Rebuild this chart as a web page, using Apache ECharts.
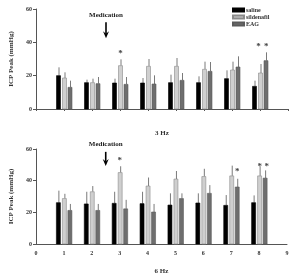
<!DOCTYPE html>
<html><head><meta charset="utf-8">
<script src="https://cdn.jsdelivr.net/npm/echarts@6/dist/echarts.min.js"></script>
<style>html,body{margin:0;padding:0;background:#fff}#c{width:293px;height:276px}</style>
</head><body><div id="c"></div>
<script>
// Groups (x positions 1..8)
const groups = [1,2,3,4,5,6,7,8];
const xTicks = [0,1,2,3,4,5,6,7,8,9];
const yTicks = [0,20,40,60];
// 3 Hz: bar heights and upper error-bar ends
const saline3 = [20,15.8,15.6,15.6,15.8,15.8,18.2,13.6];
const saline3Up = [25,17.6,18.2,18.6,20.6,19.6,23.2,17];
const silden3 = [18.6,15.8,26,25.6,25.6,23.8,23.4,21.6];
const silden3Up = [22,18.2,29.8,30,30.6,28.4,28.4,27];
const eag3 = [13,15.2,14.8,15,17.2,22.6,25.2,29];
const eag3Up = [17,19.2,19.2,20.2,21.6,28.2,31.6,34];
// 6 Hz
const saline6 = [26.1,25.3,25.7,25.5,24.6,25.9,24.4,26.1];
const saline6Up = [33.7,33,33,33,32,32,30.9,30.7];
const silden6 = [28.7,33,45.1,36.6,41,42.6,43,43];
const silden6Up = [31.7,36.6,49.1,42,46.1,47.5,49.5,49.1];
const eag6 = [21.2,21.2,22.2,20.2,28.7,32,36,41.6];
const eag6Up = [25.3,25.3,27.9,25.3,32,37.2,41.2,46.5];
// significance stars [x, y]
const stars3 = [[3.02,33],[7.95,37.6],[8.22,37.6]];
const stars6 = [[3.0,52.5],[7.22,45.5],[8.02,49],[8.27,49]];
// medication annotation [x, textY, arrowTop, arrowBottom]
const med3 = [2.5,56.4,52,42.5];
const med6 = [2.5,63,58.2,49.3];

const FONT = '"Liberation Serif", "DejaVu Serif", serif';
const names = ['saline','sildenafil','EAG'];
const fills = ['#000000','#cfcfcf','#6e6e6e'];
const strokes = ['#000000','#8a8a8a','#5a5a5a'];
const offsets = [-5.5,0.5,6];

function barRender(k){
  return function(params, api){
    const x = api.value(0), y = api.value(1), e = api.value(2);
    const base = api.coord([x,0]);
    const top = api.coord([x,y]);
    const et = api.coord([x,e]);
    const cx = base[0] + offsets[k];
    return {type:'group', children:[
      {type:'line', shape:{x1:cx+0.5,y1:top[1],x2:cx+0.5,y2:et[1]}, style:{stroke:'#7a7a7a',lineWidth:1}},
      {type:'rect', shape:{x:cx-2,y:top[1],width:4,height:base[1]-top[1]}, style:{fill:fills[k],stroke:strokes[k],lineWidth:0.6}}
    ]};
  };
}
function mk(vals, ups){ return groups.map((g,i)=>[g, vals[i], ups[i]]); }

function starSeries(idx, data){
  return {type:'custom', xAxisIndex:idx, yAxisIndex:idx, silent:true, clip:false,
    data: data,
    renderItem:function(p, api){
      const c = api.coord([api.value(0), api.value(1)]);
      return {type:'text', x:c[0], y:c[1], style:{text:'*', font:'bold 9px '+FONT, fill:'#444', align:'center', verticalAlign:'middle'}};
    }};
}
function medSeries(idx, m){
  return {type:'custom', xAxisIndex:idx, yAxisIndex:idx, silent:true, clip:false,
    data:[m],
    renderItem:function(p, api){
      const t = api.coord([api.value(0), api.value(1)]);
      const a1 = api.coord([api.value(0), api.value(2)]);
      const a2 = api.coord([api.value(0), api.value(3)]);
      return {type:'group', children:[
        {type:'text', x:t[0], y:t[1], style:{text:'Medication', font:'bold 7px '+FONT, fill:'#222', align:'center', verticalAlign:'middle'}},
        {type:'line', shape:{x1:a1[0],y1:a1[1],x2:a2[0],y2:a2[1]-4}, style:{stroke:'#000',lineWidth:1.6}},
        {type:'polygon', shape:{points:[[a2[0]-3,a2[1]-7],[a2[0],a2[1]-4.5],[a2[0]+3,a2[1]-7],[a2[0],a2[1]]]}, style:{fill:'#000'}}
      ]};
    }};
}

const sets = [[saline3,saline3Up,silden3,silden3Up,eag3,eag3Up],[saline6,saline6Up,silden6,silden6Up,eag6,eag6Up]];
const series = [];
sets.forEach((s, idx)=>{
  for(let k=0;k<3;k++){
    series.push({type:'custom', name:names[k], xAxisIndex:idx, yAxisIndex:idx, clip:false,
      itemStyle:{color:fills[k], borderColor:strokes[k], borderWidth:0.6},
      data: mk(s[2*k], s[2*k+1]), renderItem: barRender(k)});
  }
});
series.push(starSeries(0, stars3));
series.push(starSeries(1, stars6));
series.push(medSeries(0, med3));
series.push(medSeries(1, med6));

const axisLine = {lineStyle:{color:'#555',width:1}};
function yAxis(idx){
  return {type:'value', gridIndex:idx, min:0, max:60, interval:20,
    name:'ICP Peak (mmHg)', nameLocation:'middle', nameGap:21,
    nameTextStyle:{fontFamily:FONT, fontWeight:'bold', fontSize:7, color:'#333'},
    axisLine:Object.assign({show:true},axisLine), axisTick:{show:true,length:3,lineStyle:{color:'#555'}},
    splitLine:{show:false},
    axisLabel:{fontFamily:FONT, fontWeight:'bold', fontSize:6, color:'#333', margin:4,
      formatter:v=>yTicks.includes(v)?String(v):''}};
}
const option = {
  animation:false,
  backgroundColor:'#fff',
  legend:{data:names, orient:'vertical', left:227, top:2, itemWidth:11, itemHeight:3, itemGap:1, icon:'rect',
    textStyle:{fontFamily:FONT, fontWeight:'bold', fontSize:6, color:'#333', lineHeight:6, padding:[0,0,0,-3]}},
  grid:[{left:35, top:9, width:253, height:100},{left:33, top:149, width:254, height:101}],
  xAxis:[
    {type:'value', gridIndex:0, min:0, max:9, interval:1, name:'3 Hz', nameLocation:'middle', nameGap:21,
      nameTextStyle:{fontFamily:FONT, fontWeight:'bold', fontSize:7, color:'#333'},
      axisLine:Object.assign({show:true,onZero:false},axisLine), axisTick:{show:true,length:2,lineStyle:{color:'#555'}},
      axisLabel:{show:false}, splitLine:{show:false}},
    {type:'value', gridIndex:1, min:0, max:9, interval:1, name:'6 Hz', nameLocation:'middle', nameGap:24,
      nameTextStyle:{fontFamily:FONT, fontWeight:'bold', fontSize:7, color:'#333'},
      axisLine:Object.assign({show:true,onZero:false},axisLine), axisTick:{show:false},
      axisLabel:{fontFamily:FONT, fontWeight:'bold', fontSize:6, color:'#333', margin:6,
        formatter:v=>xTicks.includes(v)?String(v):''}, splitLine:{show:false}}
  ],
  yAxis:[yAxis(0), yAxis(1)],
  series: series
};
const chart = echarts.init(document.getElementById('c'), null, {renderer:'canvas'});
chart.setOption(option);
</script></body></html>
